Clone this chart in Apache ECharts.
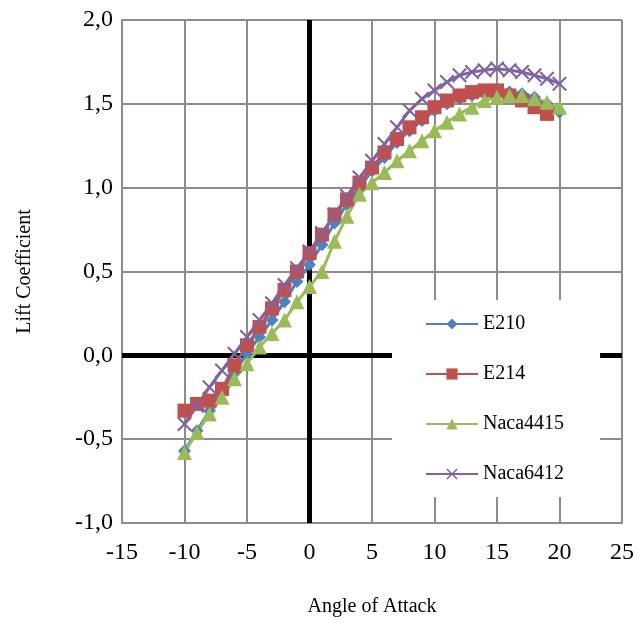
<!DOCTYPE html>
<html>
<head>
<meta charset="utf-8">
<script src="https://cdn.jsdelivr.net/npm/echarts@6/dist/echarts.min.js"></script>
<style>
  html, body { margin: 0; padding: 0; background: #fff; }
  #liftChart { width: 637px; height: 623px; }
</style>
</head>
<body>
<div id="liftChart"></div>
<script>
// angle of attack, degrees
const angles = [-10, -9, -8, -7, -6, -5, -4, -3, -2, -1, 0, 1, 2, 3, 4, 5, 6, 7, 8, 9, 10,
  11, 12, 13, 14, 15, 16, 17, 18, 19, 20];

const e210 = [-0.57, -0.45, -0.33, -0.21, -0.10, 0.01, 0.11, 0.21, 0.32, 0.44, 0.54, 0.66, 0.79, 0.90, 1.00, 1.10,
  1.18, 1.27, 1.34, 1.40, 1.46, 1.50, 1.53, 1.55, 1.56, 1.57, 1.57, 1.56, 1.54, 1.50, 1.45];
const e214 = [-0.33, -0.29, -0.27, -0.20, -0.06, 0.06, 0.17, 0.28, 0.39, 0.50, 0.61, 0.72, 0.84, 0.93, 1.03, 1.12,
  1.21, 1.29, 1.36, 1.42, 1.48, 1.52, 1.55, 1.57, 1.58, 1.58, 1.55, 1.52, 1.48, 1.44];
const naca4415 = [-0.58, -0.46, -0.35, -0.25, -0.14, -0.05, 0.05, 0.13, 0.21, 0.32, 0.41, 0.50, 0.68, 0.83, 0.96, 1.03,
  1.09, 1.16, 1.22, 1.28, 1.34, 1.39, 1.44, 1.48, 1.52, 1.54, 1.55, 1.55, 1.53, 1.51, 1.48];
const naca6412 = [-0.41, -0.30, -0.19, -0.09, 0.01, 0.11, 0.21, 0.31, 0.42, 0.52, 0.62, 0.73, 0.84, 0.95, 1.06, 1.16,
  1.26, 1.36, 1.46, 1.53, 1.58, 1.63, 1.67, 1.69, 1.70, 1.71, 1.70, 1.69, 1.67, 1.65, 1.62];

const seriesNames = ['E210', 'E214', 'Naca4415', 'Naca6412'];
const seriesColors = ['#4F81BD', '#C0504D', '#9BBB59', '#8064A2'];

const crossPath = 'path://M0,1L1,0L5,4L9,0L10,1L6,5L10,9L9,10L5,6L1,10L0,9L4,5Z';
const symbols = ['diamond', 'rect', 'triangle', crossPath];
const symbolSizes = [13, 14, 15, 15];

const pairs = (vals) => vals.map((v, i) => [angles[i], v]);
const allValues = [e210, e214, naca4415, naca6412];

const chart = echarts.init(document.getElementById('liftChart'));
const serif = 'Liberation Serif';

const series = allValues.map((vals, i) => ({
  name: seriesNames[i],
  type: 'line',
  data: pairs(vals),
  symbol: symbols[i],
  symbolSize: symbolSizes[i],
  showAllSymbol: true,
  lineStyle: { color: seriesColors[i], width: 3 },
  itemStyle: { color: seriesColors[i] },
  emphasis: { disabled: true }
}));

// bold zero lines (kept under the legend box)
series[0].markLine = {
  silent: true,
  z: 1,
  symbol: 'none',
  label: { show: false },
  lineStyle: { color: '#000', width: 5, type: 'solid' },
  data: [{ xAxis: 0 }, { yAxis: 0 }]
};

chart.setOption({
  animation: false,
  grid: { left: 122, right: 12, top: 20, bottom: 100 },
  xAxis: {
    type: 'value',
    min: -15,
    max: 25,
    interval: 5,
    name: 'Angle of Attack',
    nameLocation: 'middle',
    nameGap: 74,
    nameTextStyle: { fontFamily: serif, fontSize: 20, color: '#000' },
    axisLine: { onZero: false, lineStyle: { color: '#8c8c8c', width: 2 } },
    axisTick: { show: false },
    axisLabel: { fontFamily: serif, fontSize: 24, color: '#000', margin: 18 },
    splitLine: { show: true, lineStyle: { color: '#8c8c8c', width: 2 } }
  },
  yAxis: {
    type: 'value',
    min: -1,
    max: 2,
    interval: 0.5,
    name: 'Lift Coefficient',
    nameLocation: 'middle',
    nameGap: 87,
    nameTextStyle: { fontFamily: serif, fontSize: 20, color: '#000' },
    axisLine: { show: true, onZero: false, lineStyle: { color: '#8c8c8c', width: 2 } },
    axisTick: { show: false },
    axisLabel: {
      fontFamily: serif, fontSize: 24, color: '#000', margin: 9,
      formatter: (v) => v.toFixed(1).replace('.', ',')
    },
    splitLine: { show: true, lineStyle: { color: '#8c8c8c', width: 2 } }
  },
  legend: {
    orient: 'vertical',
    left: 392,
    top: 300,
    z: 10,
    padding: [14, 36, 13, 33],
    itemGap: 30,
    itemWidth: 52,
    itemHeight: 14,
    backgroundColor: '#fff',
    data: seriesNames,
    textStyle: { fontFamily: serif, fontSize: 20, color: '#000' }
  },
  series: series
});
</script>
</body>
</html>
